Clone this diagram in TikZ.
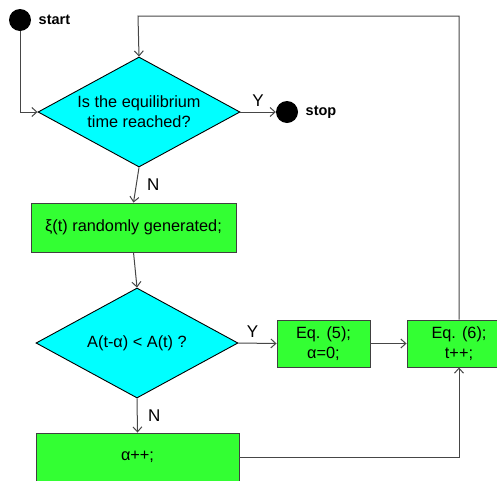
\documentclass[tikz,border=0pt]{standalone}
\usepackage{fontspec}
\setmainfont{Liberation Sans}
\usetikzlibrary{positioning,shapes.geometric,arrows.meta}
\definecolor{testcyan}{RGB}{0,255,255}
\definecolor{stepgreen}{RGB}{51,255,51}
\definecolor{wiregray}{RGB}{70,70,70}
\tikzset{
  decision/.style={diamond, draw=black, line width=0.9pt, fill=testcyan, aspect=1.84,
    minimum width=202pt, minimum height=110pt, inner sep=0pt, align=center,
    font=\fontsize{16.3}{20}\selectfont},
  process/.style={rectangle, draw=black!75, line width=0.9pt, fill=stepgreen, align=center,
    inner sep=0pt, font=\fontsize{16.3}{20}\selectfont},
  terminal/.style={circle, fill=black, minimum size=22pt, inner sep=0pt},
  termlabel/.style={font=\bfseries\fontsize{14.5}{16}\selectfont},
  answer/.style={font=\fontsize{17}{18}\selectfont},
  flow/.style={draw=wiregray, line width=1pt, -{Straight Barb[length=5pt,width=9pt]}}
}
\begin{document}
\begin{tikzpicture}[x=1pt, y=-1pt]
    \useasboundingbox (0,0) rectangle (497,480);
    \clip (0,0) rectangle (497,480);
    % terminals
    \node[terminal] (start) at (20,20) {};
    \node[termlabel, right=4pt of start] {start};
    \node[terminal] (stop) at (287,112) {};
    \node[termlabel, right=4pt of stop] {stop};
    % decisions
    \node[decision] (equil) at (139,112) {Is the equilibrium\\time reached?};
    \node[decision] (cond) at (137,343) {A(t-α) < A(t) ?};
    % processes
    \node[process, minimum width=205pt, minimum height=49pt] (gen) at (133.5,227.5) {ξ(t) randomly generated;};
    \node[process, minimum width=93pt, minimum height=47pt] (eq5) at (323.5,343.5) {Eq. (5);\\α=0;};
    \node[process, minimum width=104pt, minimum height=47pt] (eq6) at (459,343.5) {Eq. (6);\\t++;};
    \node[process, minimum width=203pt, minimum height=48pt] (incr) at (137.5,457) {α++;};
    \coordinate (top) at (138,16);
    %
    \draw[flow] (start.south) |- (equil.west);
    \draw[flow] (equil.east) -- node[answer, above=2pt] {Y} (stop.west);
    \draw[flow] (equil.south) -- node[answer, right=7pt] {N} (gen.north);
    \draw[flow] (gen.south) -- (cond.north);
    \draw[flow] (cond.east) -- node[answer, above=2pt, xshift=-5pt] {Y} (eq5.west);
    \draw[flow] (cond.south) -- node[answer, right=7pt] {N} (incr.north);
    \draw[flow] (eq5.east) -- (eq6.west);
    \draw[flow] (incr.east) -| (eq6.south);
    \draw[flow] (eq6.north) |- (top) -- (equil.north);
\end{tikzpicture}
\end{document}
